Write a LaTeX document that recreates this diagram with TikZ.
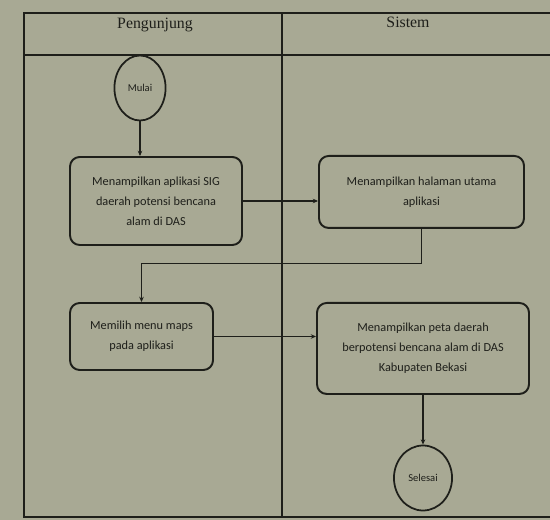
\documentclass[tikz,border=0pt]{standalone}
\usepackage{fontspec}
\setmainfont{Liberation Serif}
\newfontfamily\boxfont{Carlito}
\usetikzlibrary{arrows.meta,positioning,calc,shapes.geometric}
\definecolor{paperGray}{HTML}{A8A994}
\definecolor{inkDark}{HTML}{1E1F1A}
\begin{document}
\begin{tikzpicture}[font=\boxfont\fontsize{7}{11.3}\selectfont, inkDark,
  act/.style={draw, line width=1.1pt, rounded corners=5.5pt, align=center},
  term/.style={draw, ellipse, line width=1pt, minimum width=0.96cm, minimum height=1.3cm, font=\boxfont\fontsize{6}{7}\selectfont},
  lane/.style={line width=0.6pt},
  flow/.style={line width=0.6pt, -{Stealth[length=3pt,width=2.6pt]}},
  head/.style={font=\rmfamily\fontsize{9}{11}\selectfont}]
\useasboundingbox[fill=paperGray] (0,0) rectangle (11,-10.4);
% --- swimlanes ---
\draw[lane] (11.2,-0.26) -- (0.48,-0.26) -- (0.48,-10.34) -- (11.2,-10.34);
\draw[lane] (0.48,-1.1) -- (11.2,-1.1);
\draw[lane] (5.64,-0.26) -- (5.64,-10.34);
\node[head] (hp) at (3.1,-0.5) {Pengunjung};
\node[head] (hs) at (8.16,-0.45) {Sistem};
% --- activities ---
\node[term] (st) at (2.8,-1.76) {Mulai};
\node[act, minimum width=3.44cm, minimum height=1.76cm] (a1) at (3.12,-4.02) {Menampilkan aplikasi SIG\\daerah potensi bencana\\alam di DAS};
\node[act, minimum width=4.1cm, minimum height=1.44cm, anchor=north] (a2) at (8.43,-3.1) {Menampilkan halaman utama\\aplikasi};
\node[act, minimum width=2.86cm, minimum height=1.34cm] (a3) at (2.83,-6.73) {Memilih menu maps\\pada aplikasi};
\node[act, minimum width=4.24cm, minimum height=1.82cm, anchor=north] (a4) at (8.46,-6.04) {Menampilkan peta daerah\\berpotensi bencana alam di DAS\\Kabupaten Bekasi};
\node[term] (en) at (8.46,-9.56) {Selesai};
% --- flows ---
\draw[flow] (st.south) -- (st.south |- a1.north);
\draw[flow] (a1.east) -- (a1.east -| a2.west);
\draw[flow] (a2.south) -- ++(0,-0.7) -| (a3.north);
\draw[flow] (a3.east) -- (a3.east -| a4.west);
\draw[flow] (a4.south) -- (en.north);
\end{tikzpicture}
\end{document}
